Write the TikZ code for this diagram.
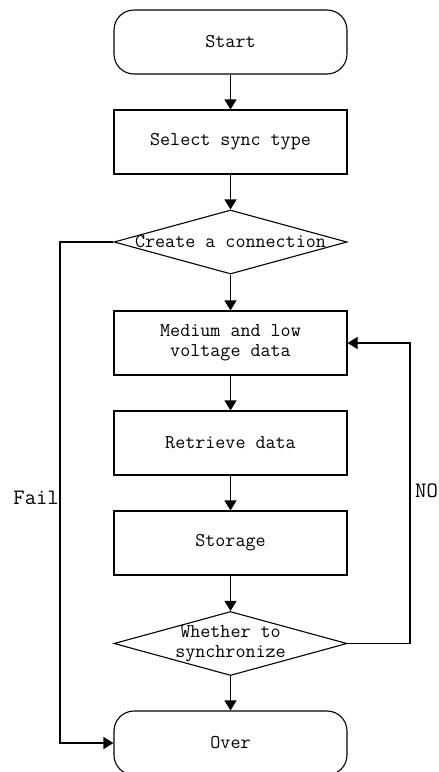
\documentclass[tikz,border=0pt]{standalone}
\usepackage{fontspec}
\usetikzlibrary{shapes.geometric,arrows.meta}
\begin{document}
\begin{tikzpicture}[x=1pt,y=-1pt,
  txt/.style={font=\ttfamily\fontsize{19.5}{20}\selectfont},
  base/.style={draw=black,line width=1.1pt,minimum width=233pt,minimum height=64pt,inner sep=0pt,txt,align=center},
  term/.style={base,rounded corners=20pt},
  proc/.style={base,rectangle},
  dec/.style={base,diamond,aspect=3.64},
  lbl/.style={font=\ttfamily\fontsize{22}{22}\selectfont,inner sep=0pt},
  arr/.style={line width=1.1pt,-{Triangle[length=10pt,width=12pt]}}]
\useasboundingbox (0,0) rectangle (439,772);
\fill[white] (0,0) rectangle (439,772);
\node[term] (start) at (230.5,42) {Start};
\node[proc] (select) at (230.5,142) {Select sync type};
\node[dec,label={[txt]center:Create a connection}] (d1) at (230.5,242) {};
\node[proc] (med) at (230.5,343) {Medium and low\\voltage data};
\node[proc] (ret) at (230.5,443) {Retrieve data};
\node[proc] (stor) at (230.5,543) {Storage};
\node[dec,label={[txt,align=center]center:Whether to\\synchronize}] (d2) at (230.5,643.5) {};
\node[term] (over) at (230.5,743) {Over};
\coordinate (failc) at (60,242);
\coordinate (noc) at (410,643.5);
\draw[arr] (start) -- (select);
\draw[arr] (select) -- (d1);
\draw[arr] (d1) -- (med);
\draw[arr] (med) -- (ret);
\draw[arr] (ret) -- (stor);
\draw[arr] (stor) -- (d2);
\draw[arr] (d2) -- (over);
\draw[arr] (d1.west) -- (failc) |- (over.west);
\draw[arr] (d2.east) -- (noc) |- (med.east);
\node[lbl,anchor=east] (fail) at (59,498) {Fail};
\node[lbl,anchor=west] (no) at (415,491) {NO};
\end{tikzpicture}
\end{document}
